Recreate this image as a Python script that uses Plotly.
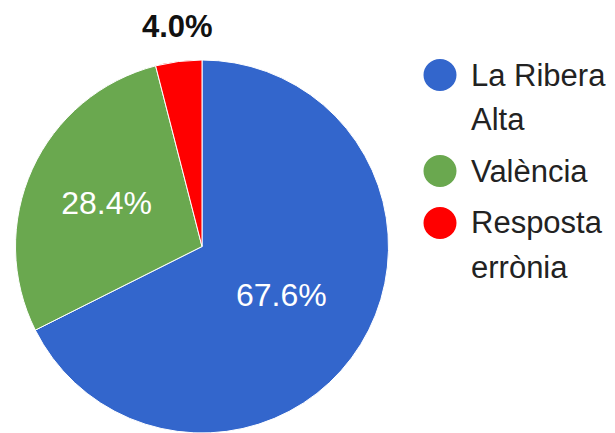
import plotly.graph_objects as go

categories = ["La Ribera Alta", "València", "Resposta errònia"]
legend_lines = [["La Ribera", "Alta"], ["València"], ["Resposta", "errònia"]]
values = [67.6, 28.4, 4.0]
colors = ["#3366CC", "#6AA84F", "#FF0000"]

W, H = 615, 433
FONT = "Arial, Liberation Sans, sans-serif"

total = sum(values)
pct_text = [f"{v / total:.1%}" for v in values]

fig = go.Figure()
fig.add_trace(go.Pie(
    labels=categories,
    values=values,
    sort=False,
    direction="clockwise",
    rotation=0,
    marker=dict(colors=colors, line=dict(color="white", width=1)),
    text=[pct_text[0], pct_text[1], ""],
    textinfo="text",
    textposition=["inside", "inside", "none"],
    insidetextfont=dict(color="white", size=32, family=FONT),
    insidetextorientation="horizontal",
    showlegend=False,
    hoverinfo="label+percent",
    domain=dict(x=[14 / W, 390 / W], y=[0, 373 / H]),
))

# label of the small slice, outside above the pie
fig.add_annotation(text=f"<b>{pct_text[2]}</b>", xref="paper", yref="paper",
                   x=177 / W, y=1 - 26 / H, xanchor="center", yanchor="middle",
                   showarrow=False, font=dict(size=31, color="#111111", family=FONT))

# manual legend with large circle markers
ys = [75, 171, 223]
for i, (lines, col) in enumerate(zip(legend_lines, colors)):
    cy = ys[i]
    fig.add_shape(type="circle", xref="paper", yref="paper",
                  x0=(440 - 16.5) / W, x1=(440 + 16.5) / W,
                  y0=1 - (cy + 16) / H, y1=1 - (cy - 16) / H,
                  fillcolor=col, line=dict(width=0))
    for j, line in enumerate(lines):
        fig.add_annotation(text=line, xref="paper", yref="paper",
                           x=469 / W, y=1 - (cy + j * 44) / H,
                           xanchor="left", yanchor="middle", showarrow=False,
                           font=dict(size=31, color="#222222", family=FONT))

fig.update_layout(
    width=W, height=H,
    margin=dict(l=0, r=0, t=0, b=0),
    paper_bgcolor="white", plot_bgcolor="white",
    font=dict(family=FONT),
)
fig.write_html("out.html", config={"displayModeBar": False},
               post_script="document.body.style.margin='0';")
